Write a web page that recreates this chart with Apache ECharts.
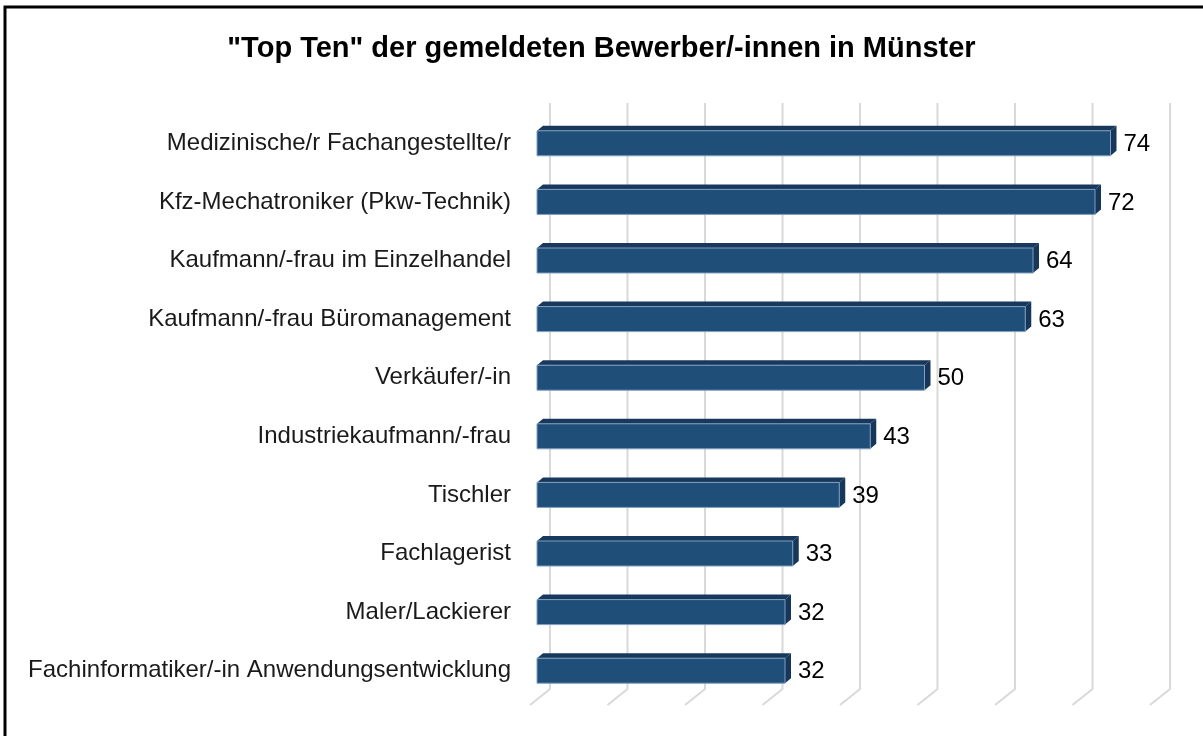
<!DOCTYPE html>
<html lang="de">
<head>
    <meta charset="UTF-8">
    <title>Top Ten Bewerber Münster</title>
    <style>
        html, body { margin: 0; padding: 0; background: #fff; }
        #main { width: 1203px; height: 736px; }
    </style>
    <script src="https://cdn.jsdelivr.net/npm/echarts@6/dist/echarts.min.js"></script>
</head>
<body>
    <div id="main"></div>
    <script>
        var berufe = [
            'Medizinische/r Fachangestellte/r',
            'Kfz-Mechatroniker (Pkw-Technik)',
            'Kaufmann/-frau im Einzelhandel',
            'Kaufmann/-frau Büromanagement',
            'Verkäufer/-in',
            'Industriekaufmann/-frau',
            'Tischler',
            'Fachlagerist',
            'Maler/Lackierer',
            'Fachinformatiker/-in Anwendungsentwicklung'
        ];
        var bewerber = [74, 72, 64, 63, 50, 43, 39, 33, 32, 32];
        var ticks = [0, 10, 20, 30, 40, 50, 60, 70, 80];

        var myChart = echarts.init(document.getElementById('main'));

        // 3d-ish bar: front face + top face + right side
        function barItem(params, api) {
            var cat = api.value(0);
            var val = api.value(1);
            var p0 = api.coord([0, cat]);
            var p1 = api.coord([val, cat]);
            var h = 25, dx = 6, dy = 5;
            var x0 = p0[0], x1 = p1[0];
            var yt = p0[1] - h / 2, yb = p0[1] + h / 2;
            return {
                type: 'group',
                children: [
                    { type: 'polygon', shape: { points: [[x0, yt], [x0 + dx, yt - dy], [x1 + dx, yt - dy], [x1, yt]] },
                      style: { fill: '#18385c' } },
                    { type: 'polygon', shape: { points: [[x1, yt], [x1 + dx, yt - dy], [x1 + dx, yb - dy], [x1, yb]] },
                      style: { fill: '#16365a' } },
                    { type: 'rect', shape: { x: x0, y: yt, width: x1 - x0, height: h },
                      style: { fill: '#1f4e79', stroke: '#7f9fc0', lineWidth: 1 } },
                    { type: 'text', x: x1 + dx + 7, y: p0[1] + 1,
                      style: { text: String(val), fill: '#000', font: '24px Arial', verticalAlign: 'middle' } }
                ]
            };
        }

        // gridlines on the back wall with a short floor stroke
        function gridItem(params, api) {
            var cs = params.coordSys;
            var x = api.coord([api.value(0), 0])[0] + 13;
            var yTop = cs.y - 11, yBot = cs.y + cs.height - 11;
            return {
                type: 'polyline',
                shape: { points: [[x, yTop], [x, yBot], [x - 20, yBot + 16]] },
                style: { stroke: '#d9d9d9', lineWidth: 2, fill: null }
            };
        }

        var option = {
            backgroundColor: '#fff',
            animation: false,
            title: {
                text: '"Top Ten" der gemeldeten Bewerber/-innen in Münster',
                left: 'center',
                top: 29,
                textStyle: { fontFamily: 'Arial', fontSize: 29, fontWeight: 'bold', color: '#000' }
            },
            graphic: [{
                type: 'rect',
                shape: { x: 5, y: 7, width: 1400, height: 900 },
                style: { fill: null, stroke: '#000', lineWidth: 3 },
                silent: true
            }],
            grid: { left: 537, top: 114, width: 620, height: 586 },
            xAxis: {
                type: 'value', min: 0, max: 80, interval: 10,
                show: false, splitLine: { show: false }
            },
            yAxis: {
                type: 'category', data: berufe, inverse: true,
                axisLine: { show: false }, axisTick: { show: false },
                axisLabel: { fontFamily: 'Arial', fontSize: 24, color: '#1a1a1a', margin: 26 }
            },
            series: [
                {
                    type: 'custom', z: 1, silent: true,
                    renderItem: gridItem,
                    encode: { x: 0, y: 1 },
                    data: ticks.map(function (t) { return [t, 0]; })
                },
                {
                    type: 'custom', z: 2, silent: true,
                    renderItem: barItem,
                    encode: { y: 0, x: 1 },
                    data: bewerber.map(function (v, i) { return [i, v]; })
                }
            ]
        };
        myChart.setOption(option);
    </script>
</body>
</html>
